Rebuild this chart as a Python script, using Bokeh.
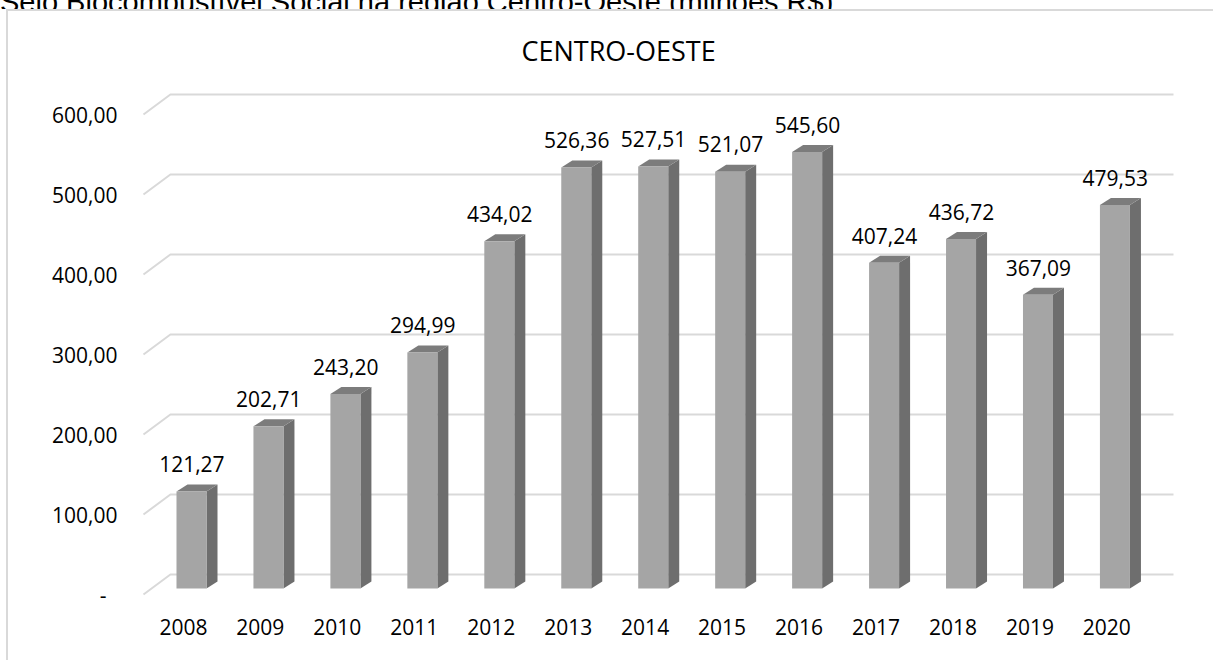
from bokeh.plotting import figure
from bokeh.models import ColumnDataSource, Range1d, FixedTicker, Div
from bokeh.layouts import column
from bokeh.core.properties import value
from bokeh.embed import file_html
from bokeh.resources import INLINE

# ---- data ----
years = ["2008", "2009", "2010", "2011", "2012", "2013", "2014",
         "2015", "2016", "2017", "2018", "2019", "2020"]
values = [121.27, 202.71, 243.20, 294.99, 434.02, 526.36, 527.51,
          521.07, 545.60, 407.24, 436.72, 367.09, 479.53]
y_ticks = [0, 100, 200, 300, 400, 500, 600]
y_tick_labels = ["-\u00a0\u00a0", "100,00", "200,00", "300,00", "400,00", "500,00", "600,00"]
title_text = "CENTRO-OESTE"
heading_text = "Selo Biocombustível Social na região Centro-Oeste (milhões R$)"

FONT = "Open Sans"

# ---- 3D geometry (in data units) ----
BACK_DX, BACK_DY = 0.35, 25.0      # back wall offset
BAR_L, BAR_R, BAR_B = -0.09, 0.30, 7.5
DEP_DX, DEP_DY = 0.143, 8.75       # bar depth
GRID_L, GRID_R = -0.519, 12.866

p = figure(width=1215, height=651, output_backend="svg", toolbar_location=None,
           x_range=Range1d(-0.5577, 12.931), y_range=Range1d(-7.5, 705),
           min_border_left=132, min_border_right=43, min_border_top=19,
           min_border_bottom=62)
p.outline_line_color = None
p.grid.visible = False
p.background_fill_color = "white"
p.border_fill_color = "white"
p.styles = {"margin-left": "8px", "margin-top": "2px",
            "box-shadow": "-2px -2px 0 0 #d9d9d9"}

# gridlines (front diagonal + back wall)
gx = [[GRID_L, GRID_L + BACK_DX, GRID_R] for t in y_ticks]
gy = [[t, t + BACK_DY, t + BACK_DY] for t in y_ticks]
p.multi_line(gx, gy, line_color="#d9d9d9", line_width=2)

idx = list(range(len(years)))
left = [i + BAR_L for i in idx]
right = [i + BAR_R for i in idx]
top = [v + BAR_B for v in values]

# side faces
side_xs = [[r, r + DEP_DX, r + DEP_DX, r] for r in right]
side_ys = [[BAR_B, BAR_B + DEP_DY, t + DEP_DY, t] for t in top]
p.patches(side_xs, side_ys, fill_color="#6e6e6e", line_color=None)
# top faces
top_xs = [[l, r, r + DEP_DX, l + DEP_DX] for l, r in zip(left, right)]
top_ys = [[t, t, t + DEP_DY, t + DEP_DY] for t in top]
p.patches(top_xs, top_ys, fill_color="#7c7c7c", line_color=None)
# front faces
p.quad(left=left, right=right, bottom=BAR_B, top=top,
       fill_color="#a5a5a5", line_color=None)

# data labels
src = ColumnDataSource(dict(
    x=[i + 0.11 for i in idx],
    y=[v + BAR_B + 34.0 for v in values],
    t=[f"{v:.2f}".replace(".", ",") for v in values],
))
p.text(x="x", y="y", text="t", source=src, text_align="center",
       text_baseline="alphabetic", text_font=value(FONT), text_font_size="21px",
       text_color="#000000")

# title
p.text(x=[5.655], y=[680], text=[title_text], text_align="center",
       text_baseline="alphabetic", text_font=value(FONT), text_font_size="27px",
       text_color="#000000")

# axes
p.yaxis.ticker = FixedTicker(ticks=y_ticks)
p.yaxis.major_label_overrides = {t: l for t, l in zip(y_ticks, y_tick_labels)}
p.xaxis.ticker = FixedTicker(ticks=idx)
p.xaxis.major_label_overrides = {i: y for i, y in zip(idx, years)}
for ax in (p.xaxis, p.yaxis):
    ax.axis_line_color = None
    ax.major_tick_line_color = None
    ax.minor_tick_line_color = None
    ax.major_tick_out = 0
    ax.major_tick_in = 0
    ax.major_label_text_font = FONT
    ax.major_label_text_font_size = "21px"
    ax.major_label_text_color = "#000000"
p.yaxis.major_label_standoff = 23
p.xaxis.major_label_standoff = 18

heading = Div(
    text=('<div style="font-family:\'Liberation Sans\',Arial,sans-serif;'
          'font-size:29px;line-height:29px;white-space:nowrap;'
          'margin-top:-18px;color:#000">' + heading_text + '</div>'),
    width=1213, height=9, margin=0, styles={"overflow": "hidden"})

layout = column(heading, p, spacing=0, width=1213, height=662,
                styles={"overflow": "hidden"})

open("out.html", "w").write(file_html(layout, INLINE))
